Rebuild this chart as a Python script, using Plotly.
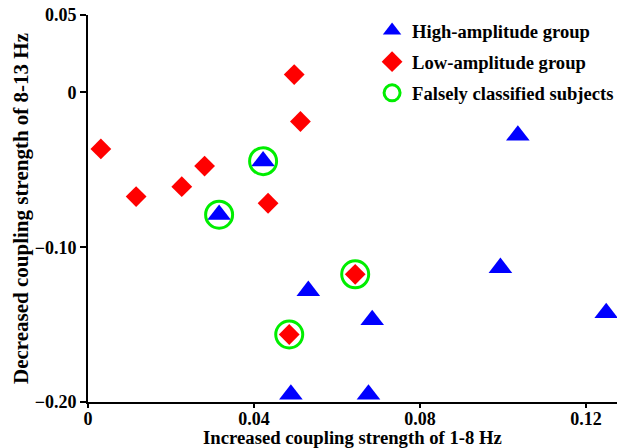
import plotly.graph_objects as go

# High-amplitude group (blue triangles)
high_x = [0.0422, 0.0316, 0.1036, 0.0994, 0.1249, 0.0531, 0.0685, 0.0489, 0.0676]
high_y = [-0.0444, -0.0790, -0.0278, -0.1133, -0.1425, -0.1282, -0.1470, -0.1951, -0.1951]

# Low-amplitude group (red diamonds)
low_x = [0.0031, 0.0116, 0.0226, 0.0281, 0.0434, 0.0497, 0.0512, 0.0644, 0.0485]
low_y = [-0.0365, -0.0673, -0.0609, -0.0476, -0.0716, 0.0115, -0.0188, -0.1175, -0.1564]

# Falsely classified subjects (green open circles)
false_x = [0.0422, 0.0316, 0.0644, 0.0485]
false_y = [-0.0444, -0.0790, -0.1175, -0.1564]

x_tickvals = [0, 0.04, 0.08, 0.12]
x_ticktext = ["0", "0.04", "0.08", "0.12"]
y_tickvals = [0.05, 0, -0.10, -0.20]
y_ticktext = ["0.05", "0", "\u22120.10", "\u22120.20"]

FONT = "Liberation Serif, Times New Roman, serif"

fig = go.Figure()
fig.add_trace(go.Scatter(
    x=high_x, y=high_y, mode="markers", name="High-amplitude group",
    legendgroup="a",
    marker=dict(symbol="triangle-up", size=20.5, color="#0000ff", line=dict(width=0)),
))
fig.add_trace(go.Scatter(
    x=low_x, y=low_y, mode="markers", name="Low-amplitude group",
    legendgroup="b",
    marker=dict(symbol="diamond", size=16, color="#ff0000", line=dict(width=0)),
))
fig.add_trace(go.Scatter(
    x=false_x, y=false_y, mode="markers", name="Falsely classified subjects",
    legendgroup="c",
    marker=dict(symbol="circle-open", size=27, color="#00ee00", line=dict(width=3, color="#00ee00")),
))

axis_common = dict(
    showline=True, linecolor="black", linewidth=2,
    tickwidth=2, tickcolor="black", ticks="outside",
    showgrid=False, zeroline=False, mirror=False, automargin=False,
    tickfont=dict(family=FONT, size=18, color="black", weight="bold"),
)

fig.update_layout(
    width=631, height=448,
    margin=dict(l=88, r=14, t=13, b=46),
    paper_bgcolor="white", plot_bgcolor="white",
    font=dict(family=FONT, color="black", weight="bold"),
    xaxis=dict(
        range=[0, 0.1275], tickvals=x_tickvals, ticktext=x_ticktext,
        ticklen=4, ticklabelstandoff=-5,
        title=dict(text="Increased coupling strength of 1-8 Hz",
                   font=dict(family=FONT, size=18.7, weight="bold"), standoff=0),
        **axis_common,
    ),
    yaxis=dict(
        range=[-0.2, 0.05], tickvals=y_tickvals, ticktext=y_ticktext,
        ticklen=6,
        title=dict(text="Decreased coupling strength of 8-13 Hz",
                   font=dict(family=FONT, size=21, weight="bold"), standoff=0),
        **axis_common,
    ),
    legend=dict(
        x=0.537, y=1.008, xanchor="left", yanchor="top",
        font=dict(family=FONT, size=18.6, weight="bold"),
        bgcolor="rgba(0,0,0,0)", tracegroupgap=4,
    ),
    showlegend=True,
)

fig.write_html("out.html", config={"displayModeBar": False},
               post_script="document.body.style.margin='0';")
